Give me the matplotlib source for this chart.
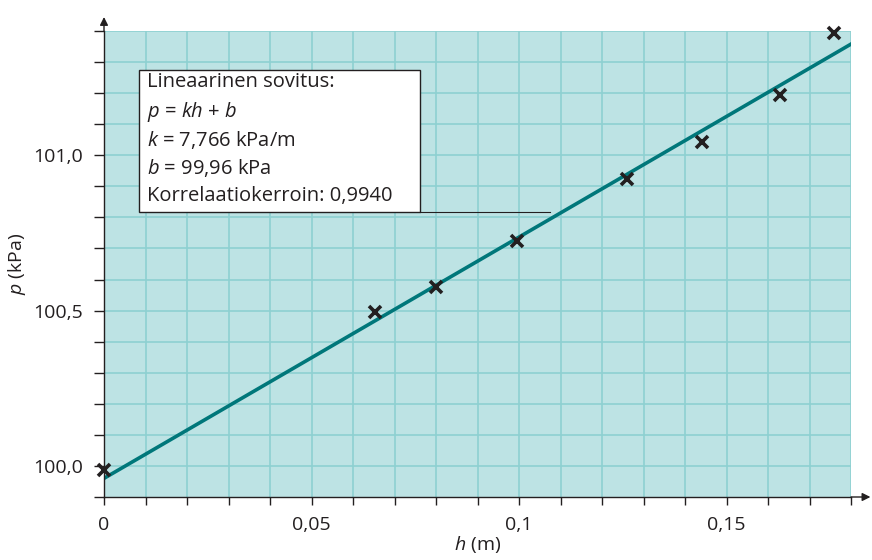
import numpy as np
import matplotlib
matplotlib.use('Agg')
import matplotlib.pyplot as plt
from matplotlib.patches import Rectangle

plt.rcParams['font.family'] = ['Open Sans', 'DejaVu Sans']
plt.rcParams['mathtext.fontset'] = 'custom'
plt.rcParams['mathtext.rm'] = 'Open Sans'
plt.rcParams['mathtext.it'] = 'Open Sans:italic'

#%% data
h = [0.0, 0.0653, 0.0800, 0.0996, 0.1260, 0.1440, 0.1628, 0.1760]
p = [99.987, 100.494, 100.577, 100.723, 100.923, 101.042, 101.194, 101.394]
k = 7.766
b = 99.96
fit_h = [0.0, 0.18]

xticks = [0, 0.05, 0.1, 0.15]
xticklabels = ['0', '0,05', '0,1', '0,15']
yticks = [100.0, 100.5, 101.0]
yticklabels = ['100,0', '100,5', '101,0']

box_lines = ['Lineaarinen sovitus:',
             r'$p$ = $kh$ + $b$',
             r'$k$ = 7,766 kPa/m',
             r'$b$ = 99,96 kPa',
             'Korrelaatiokerroin: 0,9940']

txt = '#231f20'
fill = '#bde3e4'
gridc = '#8ed0d1'
teal = '#00777a'

fig = plt.figure(figsize=(8.72, 5.60), dpi=100)
ax = fig.add_axes([104/872, 1-497/560, (851-104)/872, (497-31)/560])
ax.set_facecolor(fill)
ax.set_xlim(0, 0.18)
ax.set_ylim(99.9, 101.4)

# grid
for gx in np.arange(0.01, 0.181, 0.01):
    ax.axvline(gx, color=gridc, lw=1.2, zorder=1)
for gy in np.arange(100.0, 101.41, 0.1):
    ax.axhline(gy, color=gridc, lw=1.2, zorder=1)

# fit line
fit_p = [k*x + b for x in fit_h]
ax.plot(fit_h, fit_p, color=teal, lw=2.6, zorder=3)
ax.plot(h, p, linestyle='none', marker='x', ms=8, mew=2.6, color=txt,
        zorder=4, clip_on=False)

# text box
ax.add_patch(Rectangle((0.0084, 100.816), 0.0678, 0.458, facecolor='white',
                       edgecolor=txt, lw=1.0, zorder=5))
ax.plot([0.0762, 0.1075], [100.818, 100.818], color=txt, lw=0.8, zorder=5)
for i, s in enumerate(box_lines):
    ax.text(0.0103, 101.268 - i*0.0915, s, fontsize=14.5, color=txt,
            va='top', ha='left', zorder=6)

# axes
for s in ['top', 'right']:
    ax.spines[s].set_visible(False)
for s in ['left', 'bottom']:
    ax.spines[s].set_color(txt)
    ax.spines[s].set_linewidth(1.0)
    ax.spines[s].set_zorder(7)

ax.set_xticks(xticks)
ax.set_xticklabels(xticklabels)
ax.set_xticks(np.arange(0, 0.181, 0.01), minor=True)
ax.set_yticks(yticks)
ax.set_yticklabels(yticklabels)
ax.set_yticks(np.arange(99.9, 101.41, 0.1), minor=True)
ax.tick_params(which='both', direction='out', length=7, width=1.0,
               color=txt, labelcolor=txt, labelsize=14)
ax.tick_params(axis='x', which='both', length=6, pad=8)
ax.tick_params(axis='y', which='both', pad=8)

# arrows
ax.annotate('', xy=(0, 1.03), xytext=(0, 1.0), xycoords='axes fraction',
            arrowprops=dict(arrowstyle='-|>', color=txt, lw=1.0,
                            mutation_scale=12, shrinkA=0, shrinkB=0))
ax.annotate('', xy=(1.026, 0), xytext=(1.0, 0), xycoords='axes fraction',
            arrowprops=dict(arrowstyle='-|>', color=txt, lw=1.0,
                            mutation_scale=12, shrinkA=0, shrinkB=0))

ax.set_xlabel(r'$h$ (m)', fontsize=14, color=txt, labelpad=0)
ax.set_ylabel(r'$p$ (kPa)', fontsize=14, color=txt, labelpad=4)

fig.savefig('out.png', dpi=100)
